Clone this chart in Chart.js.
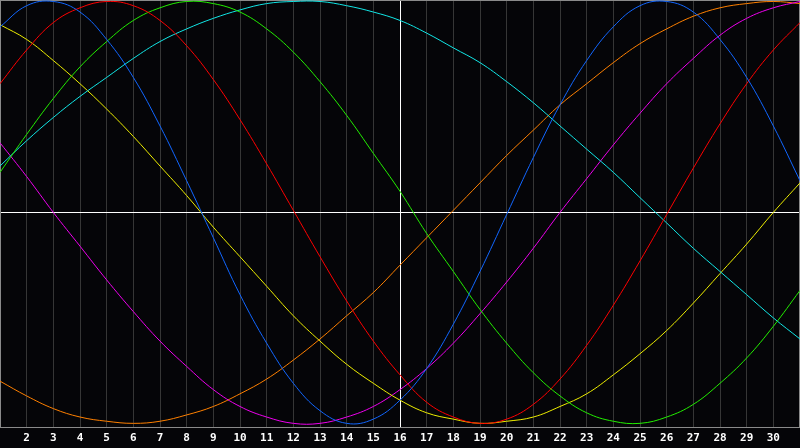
<!DOCTYPE html>
<html>
<head>
<meta charset="utf-8">
<script src="https://cdn.jsdelivr.net/npm/chart.js@4/dist/chart.umd.min.js"></script>
<style>
  html, body { margin: 0; padding: 0; background: #050508; }
</style>
</head>
<body>
<canvas id="bioChart" width="800" height="448"></canvas>
<script>
const DAYS = [1, 2, 3, 4, 5, 6, 7, 8, 9, 10, 11, 12, 13, 14, 15, 16,
              17, 18, 19, 20, 21, 22, 23, 24, 25, 26, 27, 28, 29, 30, 31];
const TODAY = 16;

// values read per day off the picture, -1 .. 1
const blueValues    = [0.88, 0.98, 1.00, 0.95, 0.82, 0.64, 0.41, 0.15, -0.12, -0.39, -0.62, -0.81, -0.94, -1.00, -0.98, -0.89, -0.74, -0.53, -0.28, -0.01, 0.26, 0.51, 0.72, 0.88, 0.98, 1.00, 0.95, 0.82, 0.64, 0.41, 0.15];
const redValues     = [0.61, 0.77, 0.90, 0.97, 1.00, 0.98, 0.91, 0.79, 0.63, 0.44, 0.23, 0.01, -0.21, -0.42, -0.61, -0.77, -0.90, -0.97, -1.00, -0.98, -0.91, -0.79, -0.63, -0.44, -0.23, -0.01, 0.21, 0.42, 0.61, 0.77, 0.90];
const greenValues   = [0.19, 0.37, 0.54, 0.69, 0.81, 0.91, 0.97, 1.00, 0.99, 0.95, 0.87, 0.76, 0.62, 0.46, 0.28, 0.10, -0.10, -0.28, -0.46, -0.62, -0.76, -0.87, -0.95, -0.99, -1.00, -0.97, -0.91, -0.81, -0.69, -0.54, -0.37];
const cyanValues    = [0.22, 0.34, 0.45, 0.55, 0.64, 0.73, 0.81, 0.87, 0.92, 0.96, 0.99, 1.00, 1.00, 0.98, 0.95, 0.91, 0.85, 0.78, 0.71, 0.62, 0.52, 0.41, 0.30, 0.19, 0.07, -0.05, -0.17, -0.28, -0.39, -0.50, -0.60];
const yellowValues  = [0.89, 0.82, 0.72, 0.61, 0.49, 0.36, 0.22, 0.08, -0.07, -0.21, -0.35, -0.49, -0.61, -0.72, -0.81, -0.89, -0.95, -0.98, -1.00, -0.99, -0.97, -0.92, -0.86, -0.77, -0.67, -0.56, -0.43, -0.29, -0.15, 0.00, 0.14];
const magentaValues = [0.33, 0.17, 0.00, -0.16, -0.32, -0.47, -0.61, -0.73, -0.84, -0.92, -0.97, -1.00, -1.00, -0.97, -0.92, -0.84, -0.74, -0.62, -0.48, -0.33, -0.17, 0.00, 0.16, 0.32, 0.47, 0.61, 0.73, 0.84, 0.92, 0.97, 1.00];
const orangeValues  = [-0.80, -0.87, -0.93, -0.97, -0.99, -1.00, -0.99, -0.96, -0.92, -0.86, -0.79, -0.70, -0.60, -0.49, -0.38, -0.25, -0.12, 0.01, 0.14, 0.27, 0.39, 0.51, 0.61, 0.71, 0.80, 0.87, 0.93, 0.97, 0.99, 1.00, 0.99];

const series = [
  { data: blueValues,    color: '#1166ff' },
  { data: redValues,     color: '#ff0000' },
  { data: greenValues,   color: '#22ee00' },
  { data: cyanValues,    color: '#11e6e6' },
  { data: yellowValues,  color: '#eeee00' },
  { data: magentaValues, color: '#ee00ee' },
  { data: orangeValues,  color: '#ff8000' }
];

const backdrop = {
  id: 'backdrop',
  beforeDraw(chart) {
    const ctx = chart.ctx;
    ctx.save();
    ctx.fillStyle = '#050508';
    ctx.fillRect(0, 0, chart.width, chart.height);
    ctx.restore();
  },
  beforeDatasetsDraw(chart) {
    const a = chart.chartArea;
    const ctx = chart.ctx;
    ctx.save();
    ctx.strokeStyle = '#8a8a8a';
    ctx.lineWidth = 1;
    ctx.strokeRect(a.left + 0.5, a.top + 0.5, a.right - a.left - 1, a.bottom - a.top - 1);
    ctx.restore();
  }
};

new Chart(document.getElementById('bioChart'), {
  type: 'line',
  data: {
    labels: DAYS,
    datasets: series.map(s => ({
      data: s.data,
      borderColor: s.color,
      borderWidth: 1,
      pointRadius: 0,
      pointHoverRadius: 0,
      tension: 0.4,
      fill: false
    }))
  },
  options: {
    responsive: false,
    animation: false,
    events: [],
    layout: { padding: 0, autoPadding: false },
    plugins: { legend: { display: false }, tooltip: { enabled: false } },
    scales: {
      x: {
        offset: false,
        border: { display: false },
        grid: {
          drawTicks: false,
          color: ctx => DAYS[ctx.index] === TODAY ? '#ffffff' : '#363636'
        },
        ticks: {
          color: '#ffffff',
          autoSkip: false,
          maxRotation: 0,
          padding: 4,
          font: { family: 'DejaVu Sans Mono', size: 11, weight: 'bold' },
          callback: (v, i) => (i === 0 || i === DAYS.length - 1) ? '' : DAYS[i]
        },
        afterFit: s => { s.height = 20; s.paddingLeft = 0; s.paddingRight = 0; }
      },
      y: {
        min: -1.022,
        max: 1.007,
        border: { display: false },
        grid: {
          drawTicks: false,
          color: ctx => ctx.tick.value === 0 ? '#ffffff' : 'rgba(0,0,0,0)'
        },
        ticks: { display: false },
        afterBuildTicks: s => { s.ticks = [{ value: 0 }]; },
        afterFit: s => { s.width = 0; s.paddingTop = 0; s.paddingBottom = 0; }
      }
    }
  },
  plugins: [backdrop]
});
</script>
</body>
</html>
